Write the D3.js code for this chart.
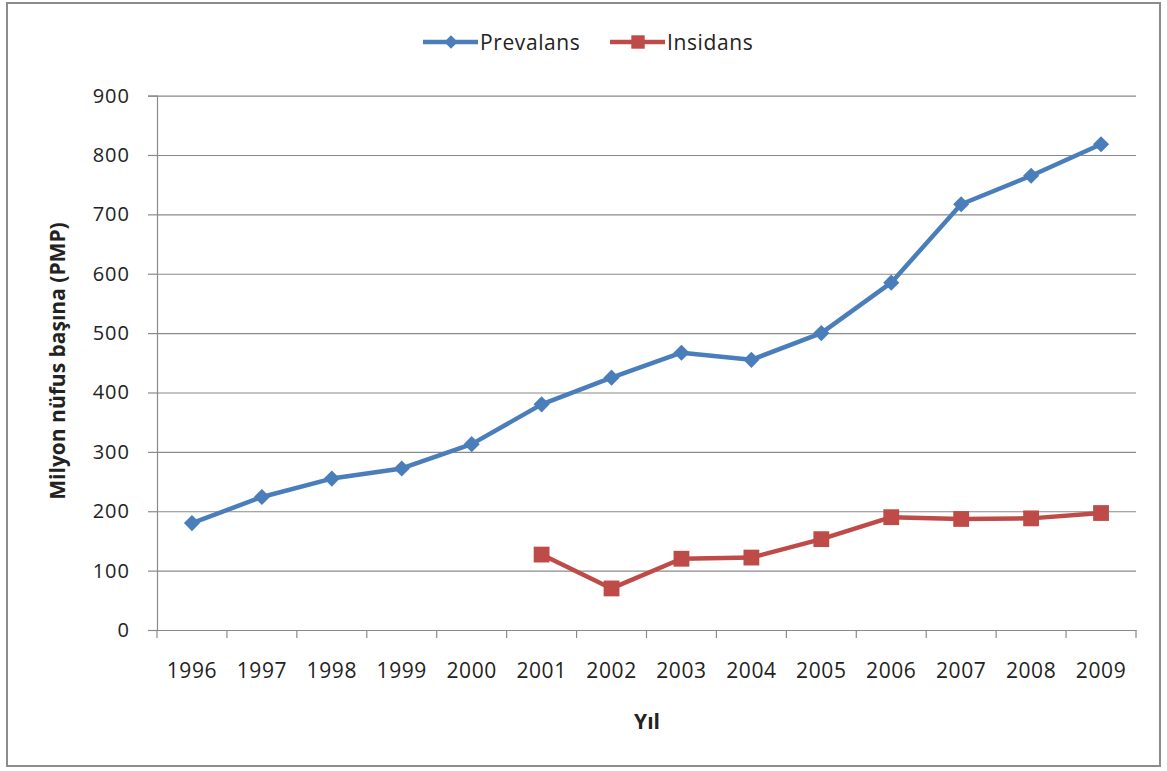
<!DOCTYPE html>
<html>
<head>
<meta charset="utf-8">
<script src="https://cdn.jsdelivr.net/npm/d3@7"></script>
<style>
  html, body { margin: 0; padding: 0; background: #fff; }
  svg text { font-family: "Open Sans", "Noto Sans", sans-serif; fill: #222; }
</style>
</head>
<body>
<svg id="chart" width="1167" height="771"></svg>
<script>
// Years on the horizontal axis
const years = ["1996","1997","1998","1999","2000","2001","2002","2003","2004","2005","2006","2007","2008","2009"];
// Prevalence per million population
const prevalans = [180, 224, 255, 272, 313, 380, 425, 467, 455, 500, 585, 717, 765, 818];
// Incidence per million population (available from 2001)
const insidansYears = ["2001","2002","2003","2004","2005","2006","2007","2008","2009"];
const insidans = [127, 70, 120, 122, 153, 190, 187, 188, 197];
const yTicks = [0, 100, 200, 300, 400, 500, 600, 700, 800, 900];

const svg = d3.select("#chart");
const plotLeft = 157, plotRight = 1136, plotTop = 95.6, plotBottom = 630;

const x = d3.scaleBand().domain(years).range([plotLeft, plotRight]);
const y = d3.scaleLinear().domain([0, 900]).range([plotBottom, plotTop]);
const cx = d => x(d) + x.bandwidth() / 2;

// Outer frame
svg.append("rect").attr("x", 7).attr("y", 3).attr("width", 1153).attr("height", 763)
  .attr("fill", "#fff").attr("stroke", "#8c8c8c").attr("stroke-width", 2);

// Horizontal gridlines
svg.append("g").attr("transform", `translate(${plotLeft},0)`)
  .call(d3.axisLeft(y).tickValues(yTicks).tickSize(-(plotRight - plotLeft)).tickFormat(""))
  .call(g => g.select(".domain").remove())
  .call(g => g.selectAll("line").attr("stroke", "#8a8a8a").attr("stroke-width", 1.2));

// Y axis with labels
svg.append("g").attr("transform", `translate(${plotLeft},0)`)
  .call(d3.axisLeft(y).tickValues(yTicks).tickSize(9).tickPadding(18))
  .call(g => g.select(".domain").attr("stroke", "#8a8a8a").attr("stroke-width", 1.2))
  .call(g => g.selectAll("line").attr("stroke", "#8a8a8a").attr("stroke-width", 1.2))
  .call(g => g.selectAll("text").attr("font-size", 20).attr("letter-spacing", 1)
    .attr("fill", "#222").attr("font-family", "'Open Sans', sans-serif"));

// X axis: baseline, tick marks between categories, labels centred in each band
svg.append("g").attr("transform", `translate(0,${plotBottom})`)
  .call(d3.axisBottom(x).tickSize(0).tickPadding(33))
  .call(g => g.select(".domain").attr("stroke", "#8a8a8a").attr("stroke-width", 1.2))
  .call(g => g.selectAll("text").attr("font-size", 21).attr("letter-spacing", 0.6)
    .attr("fill", "#222").attr("font-family", "'Open Sans', sans-serif"));

const edges = years.map(d => x(d)).concat([x.range()[1]]);
svg.append("g").selectAll("line").data(edges).join("line")
  .attr("x1", d => d).attr("x2", d => d)
  .attr("y1", plotBottom).attr("y2", plotBottom + 8)
  .attr("stroke", "#8a8a8a").attr("stroke-width", 1.2);

// Axis titles
svg.append("text").attr("transform", "translate(65,361) rotate(-90)")
  .attr("text-anchor", "middle").attr("font-size", 21).attr("font-weight", "bold")
  .text("Milyon nüfus başına (PMP)");
svg.append("text").attr("x", 647).attr("y", 729)
  .attr("text-anchor", "middle").attr("font-size", 21).attr("font-weight", "bold")
  .text("Yıl");

const blue = "#4a7ebb", red = "#be4b48";
const line = d3.line().x(d => cx(d.year)).y(d => y(d.value));

const prevData = years.map((yr, i) => ({ year: yr, value: prevalans[i] }));
const insData = insidansYears.map((yr, i) => ({ year: yr, value: insidans[i] }));

// Prevalence series
svg.append("path").datum(prevData).attr("d", line)
  .attr("fill", "none").attr("stroke", blue).attr("stroke-width", 4.5).attr("stroke-linejoin", "round");
svg.append("g").selectAll("path").data(prevData).join("path")
  .attr("d", d3.symbol(d3.symbolSquare, 130))
  .attr("transform", d => `translate(${cx(d.year)},${y(d.value)}) rotate(45)`)
  .attr("fill", blue);

// Incidence series
svg.append("path").datum(insData).attr("d", line)
  .attr("fill", "none").attr("stroke", red).attr("stroke-width", 4.5).attr("stroke-linejoin", "round");
svg.append("g").selectAll("path").data(insData).join("path")
  .attr("d", d3.symbol(d3.symbolSquare, 250))
  .attr("transform", d => `translate(${cx(d.year)},${y(d.value)})`)
  .attr("fill", red);

// Legend
const legend = svg.append("g");
const items = [
  { name: "Prevalans", color: blue, x0: 423, symbol: d3.symbol(d3.symbolSquare, 90), rot: 45 },
  { name: "Insidans", color: red, x0: 610, symbol: d3.symbol(d3.symbolSquare, 180), rot: 0 }
];
items.forEach(it => {
  legend.append("line").attr("x1", it.x0).attr("x2", it.x0 + 55).attr("y1", 42).attr("y2", 42)
    .attr("stroke", it.color).attr("stroke-width", 4.5);
  legend.append("path").attr("d", it.symbol())
    .attr("transform", `translate(${it.x0 + 28},42) rotate(${it.rot})`).attr("fill", it.color);
  legend.append("text").attr("x", it.x0 + 57).attr("y", 50).attr("font-size", 21)
    .attr("letter-spacing", 0.6).text(it.name);
});
</script>
</body>
</html>
